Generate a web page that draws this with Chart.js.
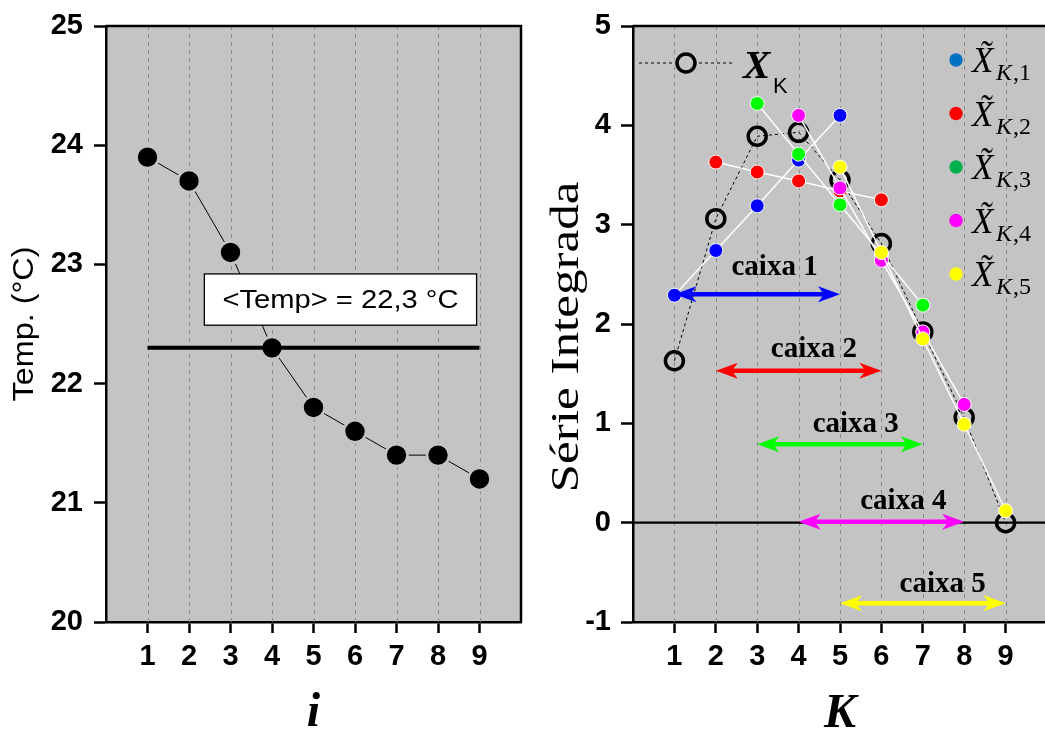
<!DOCTYPE html>
<html><head><meta charset="utf-8">
<script src="https://cdn.jsdelivr.net/npm/chart.js@4"></script>
<style>
html,body{margin:0;padding:0;background:#fff;overflow:hidden;width:1045px;height:729px;}
#w1{position:absolute;left:0;top:0;width:525px;height:729px;}
#w2{position:absolute;left:525px;top:0;width:525px;height:729px;}
</style></head><body>
<div id="w1"><canvas id="c1"></canvas></div>
<div id="w2"><canvas id="c2"></canvas></div>
<script>
// ---------- data ----------
const idx = [1, 2, 3, 4, 5, 6, 7, 8, 9];
const temp = [23.9, 23.7, 23.1, 22.3, 21.8, 21.6, 21.4, 21.4, 21.2];
const tempMean = 22.3;
const tempTicks = [20, 21, 22, 23, 24, 25];

const K = [1, 2, 3, 4, 5, 6, 7, 8, 9];
const XK = [1.63, 3.06, 3.89, 3.93, 3.45, 2.81, 1.92, 1.06, 0.00];
const serieTicks = [-1, 0, 1, 2, 3, 4, 5];

const caixa1K = [1, 2, 3, 4, 5];
const caixa1 = [2.29, 2.74, 3.19, 3.65, 4.10];
const caixa2K = [2, 3, 4, 5, 6];
const caixa2 = [3.63, 3.53, 3.44, 3.34, 3.25];
const caixa3K = [3, 4, 5, 6, 7];
const caixa3 = [4.22, 3.71, 3.20, 2.70, 2.19];
const caixa4K = [4, 5, 6, 7, 8];
const caixa4 = [4.10, 3.37, 2.64, 1.92, 1.19];
const caixa5K = [5, 6, 7, 8, 9];
const caixa5 = [3.58, 2.72, 1.85, 0.99, 0.12];

const caixaNames = ['caixa 1', 'caixa 2', 'caixa 3', 'caixa 4', 'caixa 5'];
const caixaStart = [1, 2, 3, 4, 5];
const caixaEnd = [5, 6, 7, 8, 9];
const caixaLevel = [2.30, 1.53, 0.79, 0.01, -0.81];
const caixaLabelX = [3.42, 4.37, 5.38, 6.53, 7.48];
const caixaLabelY = [2.49, 1.67, 0.91, 0.14, -0.70];

const legendSub = ['1', '2', '3', '4', '5'];

// ---------- styles ----------
const BG = '#c4c4c4';
const GRID = '#8a8a8a';
const ptColors = ['#0000ff', '#ff0000', '#00ff00', '#ff00ff', '#ffff00'];
const legColors = ['#0070c0', '#ff0000', '#00b050', '#ff00ff', '#ffff00'];
const SANS = '"Liberation Sans", Arial, sans-serif';
const SERIF = '"Liberation Serif", "Times New Roman", serif';

Chart.defaults.font.family = SANS;
Chart.defaults.color = '#000';

function commonScales(yMin, yMax, yTicks, yWidth, xHeight, yPad) {
  return {
    x: {
      type: 'linear', min: 0, max: 10,
      afterBuildTicks: s => { s.ticks = idx.map(v => ({ value: v })); },
      afterFit: s => { s.height = xHeight; s.paddingLeft = 0; s.paddingRight = 0; },
      ticks: { font: { size: 29, weight: 'bold' }, color: '#000', padding: 7, maxRotation: 0,
               callback: v => String(v) },
      grid: { display: true, drawOnChartArea: false, drawTicks: true, tickLength: 11,
              tickWidth: 2.5, tickColor: '#000' },
      border: { display: true, color: '#000', width: 2.5 }
    },
    y: {
      type: 'linear', min: yMin, max: yMax,
      afterBuildTicks: s => { s.ticks = yTicks.map(v => ({ value: v })); },
      afterFit: s => { s.width = yWidth; s.paddingTop = 0; s.paddingBottom = 0; },
      ticks: { font: { size: 29, weight: 'bold' }, color: '#000', padding: yPad,
               callback: v => String(v) },
      grid: { display: true, drawOnChartArea: false, drawTicks: true, tickLength: 12,
              tickWidth: 2.5, tickColor: '#000' },
      border: { display: true, color: '#000', width: 2.5 }
    }
  };
}

const framePlugin = (drawRight) => ({
  id: 'frame',
  beforeDraw(chart) {
    const { ctx, chartArea: a } = chart;
    ctx.save();
    ctx.fillStyle = BG;
    ctx.fillRect(a.left, a.top, a.right - a.left, a.bottom - a.top);
    ctx.restore();
  },
  beforeDatasetsDraw(chart) {
    const { ctx, chartArea: a, scales: { x } } = chart;
    ctx.save();
    ctx.strokeStyle = GRID; ctx.lineWidth = 1; ctx.setLineDash([4, 4]);
    idx.forEach(v => {
      const px = Math.round(x.getPixelForValue(v)) + 0.5;
      ctx.beginPath(); ctx.moveTo(px, a.top); ctx.lineTo(px, a.bottom); ctx.stroke();
    });
    ctx.restore();
  },
  afterDraw(chart) {
    const { ctx, chartArea: a } = chart;
    ctx.save();
    ctx.strokeStyle = '#000'; ctx.lineWidth = 2.5;
    ctx.beginPath(); ctx.moveTo(a.left, a.top); ctx.lineTo(a.right, a.top);
    if (drawRight) ctx.lineTo(a.right, a.bottom);
    ctx.stroke();
    ctx.restore();
  }
});

// text drawn stretched to a target length
function fillFit(ctx, text, x, y, len) {
  const w = ctx.measureText(text).width;
  ctx.save();
  ctx.translate(x, y);
  ctx.scale(len / w, 1);
  ctx.fillText(text, 0, 0);
  ctx.restore();
}

// ---------- left chart ----------
const leftPlugin = {
  id: 'leftExtras',
  afterDraw(chart) {
    const { ctx, chartArea: a, scales: { x, y } } = chart;
    ctx.save();
    // annotation box
    const bx1 = x.getPixelForValue(2.37), bx2 = x.getPixelForValue(8.93);
    const by1 = y.getPixelForValue(22.92), by2 = y.getPixelForValue(22.49);
    ctx.fillStyle = '#fff'; ctx.fillRect(bx1, by1, bx2 - bx1, by2 - by1);
    ctx.strokeStyle = '#000'; ctx.lineWidth = 1.3; ctx.strokeRect(bx1, by1, bx2 - bx1, by2 - by1);
    ctx.fillStyle = '#000'; ctx.font = '26px ' + SANS;
    ctx.textAlign = 'center'; ctx.textBaseline = 'middle';
    fillFit(ctx, '<Temp> = ' + String(tempMean).replace('.', ',') + ' \u00B0C', (bx1 + bx2) / 2, (by1 + by2) / 2 + 1, 236);
    // y title
    ctx.save();
    ctx.translate(25, (a.top + a.bottom) / 2);
    ctx.rotate(-Math.PI / 2);
    ctx.font = '29px ' + SANS; ctx.textAlign = 'center'; ctx.textBaseline = 'middle';
    fillFit(ctx, 'Temp. (\u00B0C)', 0, 0, 155);
    ctx.restore();
    // x title
    ctx.font = 'italic bold 48px ' + SERIF; ctx.textAlign = 'center'; ctx.textBaseline = 'alphabetic';
    ctx.fillText('i', x.getPixelForValue(5), 726);
    ctx.restore();
  }
};

new Chart(document.getElementById('c1'), {
  type: 'line',
  data: {
    datasets: [
      { label: 'mean', data: [{ x: idx[0], y: tempMean }, { x: idx[idx.length - 1], y: tempMean }],
        borderColor: '#000', borderWidth: 4, pointRadius: 0, order: 0 },
      { label: 'Temp', data: idx.map((v, i) => ({ x: v, y: temp[i] })),
        borderColor: '#000', borderWidth: 1, pointRadius: 11, pointBackgroundColor: '#000',
        pointBorderColor: BG, pointBorderWidth: 2.6, order: 1 }
    ]
  },
  options: {
    responsive: true, maintainAspectRatio: false, animation: false, devicePixelRatio: 1,
    layout: { autoPadding: false, padding: { left: 0, top: 26, right: 4, bottom: 0 } },
    plugins: { legend: { display: false }, tooltip: { enabled: false } },
    scales: commonScales(20, 25, tempTicks, 106, 107, 11)
  },
  plugins: [framePlugin(true), leftPlugin]
});

// ---------- right chart ----------
function drawArrow(ctx, x1, x2, y, color) {
  const L = 22, W = 8, ind = 6;
  ctx.save();
  ctx.strokeStyle = color; ctx.fillStyle = color; ctx.lineWidth = 4.5;
  ctx.beginPath(); ctx.moveTo(x1 + L - ind, y); ctx.lineTo(x2 - L + ind, y); ctx.stroke();
  [[x1, 1], [x2, -1]].forEach(([xt, d]) => {
    ctx.beginPath();
    ctx.moveTo(xt, y);
    ctx.lineTo(xt + d * L, y - W);
    ctx.lineTo(xt + d * (L - ind), y);
    ctx.lineTo(xt + d * L, y + W);
    ctx.closePath(); ctx.fill();
  });
  ctx.restore();
}

const rightPlugin = {
  id: 'rightExtras',
  beforeDatasetsDraw(chart) {
    const { ctx, chartArea: a, scales: { y } } = chart;
    const py = y.getPixelForValue(0);
    ctx.save(); ctx.strokeStyle = '#000'; ctx.lineWidth = 2.2;
    ctx.beginPath(); ctx.moveTo(a.left, py); ctx.lineTo(a.right, py); ctx.stroke();
    ctx.restore();
  },
  afterDatasetsDraw(chart) {
    const { ctx, scales: { x, y } } = chart;
    caixaNames.forEach((name, i) => {
      drawArrow(ctx, x.getPixelForValue(caixaStart[i]), x.getPixelForValue(caixaEnd[i]),
                y.getPixelForValue(caixaLevel[i]), ptColors[i]);
      ctx.save();
      ctx.fillStyle = '#000'; ctx.font = 'bold 29px ' + SERIF;
      ctx.textAlign = 'center'; ctx.textBaseline = 'alphabetic';
      ctx.fillText(name, x.getPixelForValue(caixaLabelX[i]), y.getPixelForValue(caixaLabelY[i]));
      ctx.restore();
    });
  },
  afterDraw(chart) {
    const { ctx, chartArea: a, scales: { x } } = chart;
    ctx.save();
    // X_K legend
    const ly = a.top + 37;
    ctx.strokeStyle = '#000'; ctx.lineWidth = 1; ctx.setLineDash([3, 3]);
    ctx.beginPath(); ctx.moveTo(a.left + 6, ly); ctx.lineTo(a.left + 100, ly); ctx.stroke();
    ctx.setLineDash([]);
    ctx.fillStyle = BG; ctx.beginPath(); ctx.arc(a.left + 53, ly, 12, 0, Math.PI * 2); ctx.fill();
    ctx.lineWidth = 3.5; ctx.beginPath(); ctx.arc(a.left + 53, ly, 9, 0, Math.PI * 2); ctx.stroke();
    ctx.fillStyle = '#000'; ctx.textAlign = 'left'; ctx.textBaseline = 'alphabetic';
    ctx.font = 'italic bold 41px ' + SERIF; ctx.fillText('X', a.left + 110, a.top + 52);
    ctx.font = '22px ' + SANS; ctx.fillText('K', a.left + 140, a.top + 67);
    // colored legend
    legendSub.forEach((s, i) => {
      const dy = a.top + 34 + i * 53.5;
      ctx.fillStyle = legColors[i];
      ctx.beginPath(); ctx.arc(a.left + 323, dy, 6.7, 0, Math.PI * 2); ctx.fill();
      ctx.fillStyle = '#000';
      ctx.font = 'italic 35px ' + SERIF;
      ctx.fillText('X\u0303', a.left + 339, dy + 12);
      ctx.font = 'italic 24px ' + SERIF;
      ctx.fillText('K', a.left + 363, dy + 20);
      const kw = ctx.measureText('K').width;
      ctx.font = '24px ' + SERIF;
      ctx.fillText(',' + s, a.left + 363 + kw + 1, dy + 20);
    });
    // y title
    ctx.save();
    ctx.translate(42, 337);
    ctx.rotate(-Math.PI / 2);
    ctx.font = '40px ' + SERIF; ctx.textAlign = 'center'; ctx.textBaseline = 'middle';
    fillFit(ctx, 'S\u00E9rie Integrada', 0, 0, 311);
    ctx.restore();
    // x title
    ctx.font = 'italic bold 48px ' + SERIF; ctx.textAlign = 'center'; ctx.textBaseline = 'alphabetic';
    ctx.fillText('K', x.getPixelForValue(5), 727);
    ctx.restore();
  }
};

const caixaK = [caixa1K, caixa2K, caixa3K, caixa4K, caixa5K];
const caixaV = [caixa1, caixa2, caixa3, caixa4, caixa5];
const colorDatasets = caixaV.map((vals, j) => ({
  label: 'X~K,' + (j + 1),
  data: caixaK[j].map((k, i) => ({ x: k, y: vals[i] })),
  borderColor: '#ffffff', borderWidth: 1.5,
  pointRadius: 7, pointBackgroundColor: ptColors[j], pointBorderColor: '#ffffff', pointBorderWidth: 1,
  order: 5 - j
}));

new Chart(document.getElementById('c2'), {
  type: 'line',
  data: {
    datasets: [
      { label: 'XK', data: K.map((k, i) => ({ x: k, y: XK[i] })),
        borderColor: '#000', borderWidth: 1, borderDash: [3, 3],
        pointRadius: 9, pointBorderWidth: 3.5, pointBorderColor: '#000',
        pointBackgroundColor: 'rgba(0,0,0,0)', order: 10 },
      ...colorDatasets
    ]
  },
  options: {
    responsive: true, maintainAspectRatio: false, animation: false, devicePixelRatio: 1,
    layout: { autoPadding: false, padding: { left: 0, top: 26, right: 3, bottom: 0 } },
    plugins: { legend: { display: false }, tooltip: { enabled: false } },
    scales: commonScales(-1, 5, serieTicks, 108, 107, 10)
  },
  plugins: [framePlugin(false), rightPlugin]
});
</script>
</body></html>
